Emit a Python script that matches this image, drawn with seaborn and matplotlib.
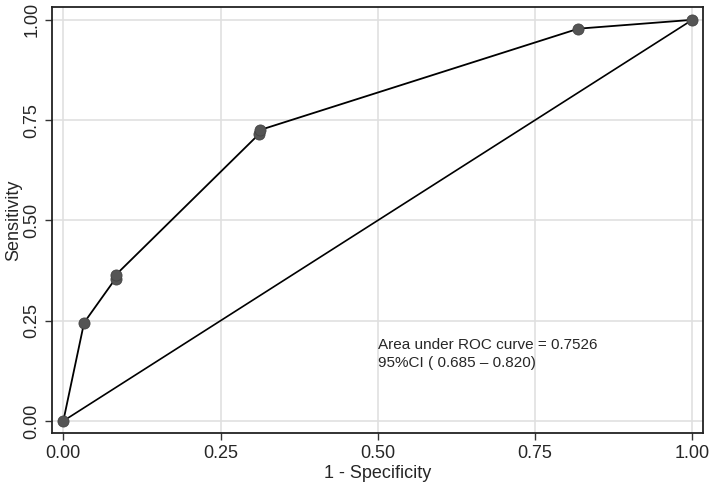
import numpy as np
import pandas as pd
import matplotlib
matplotlib.use("Agg")
import matplotlib.pyplot as plt
import seaborn as sns

# ROC points
fpr = [0.0, 0.033, 0.083, 0.084, 0.311, 0.312, 0.819, 1.0]
tpr = [0.0, 0.245, 0.355, 0.365, 0.715, 0.725, 0.978, 1.0]
ticks = [0.0, 0.25, 0.5, 0.75, 1.0]
tick_labels = ["0.00", "0.25", "0.50", "0.75", "1.00"]
auc_text = "Area under ROC curve = 0.7526"
ci_text = "95%CI ( 0.685 \u2013 0.820)"

roc = pd.DataFrame({"fpr": fpr, "tpr": tpr})
ref = pd.DataFrame({"fpr": [0.0, 1.0], "tpr": [0.0, 1.0]})

sns.set_style("white")
plt.rcParams["font.family"] = ["Liberation Sans", "DejaVu Sans"]

fig = plt.figure(figsize=(7.1, 4.83), dpi=100)
ax = fig.add_axes([52 / 710, 1 - 433 / 483, 651 / 710, 426 / 483])

sns.lineplot(data=roc, x="fpr", y="tpr", color="black", linewidth=1.3,
             sort=False, estimator=None, ax=ax, zorder=3)
sns.scatterplot(data=roc, x="fpr", y="tpr", color="#555555", s=64,
                edgecolor="#444444", linewidth=0.6, ax=ax, zorder=4)
sns.lineplot(data=ref, x="fpr", y="tpr", color="black", linewidth=1.2,
             ax=ax, zorder=2)

ax.set_xlim(-0.018, 1.017)
ax.set_ylim(-0.03, 1.032)
ax.set_xticks(ticks)
ax.set_xticklabels(tick_labels, fontsize=13)
ax.set_yticks(ticks)
ax.set_yticklabels(tick_labels, fontsize=13, rotation=90, va="center")
ax.tick_params(axis="both", direction="out", length=5, width=1,
               color="#333333", bottom=True, left=True)
ax.grid(True, color="#e0e0e0", linewidth=1.2)
ax.set_axisbelow(True)
for sp in ax.spines.values():
    sp.set_color("#222222")
    sp.set_linewidth(1.3)

ax.set_xlabel("1 - Specificity", fontsize=13, labelpad=2)
ax.set_ylabel("Sensitivity", fontsize=13, labelpad=1)

ax.text(0.5, 0.19, auc_text, fontsize=11, va="center")
ax.text(0.5, 0.145, ci_text, fontsize=11, va="center")

fig.savefig("out.png", dpi=100)
